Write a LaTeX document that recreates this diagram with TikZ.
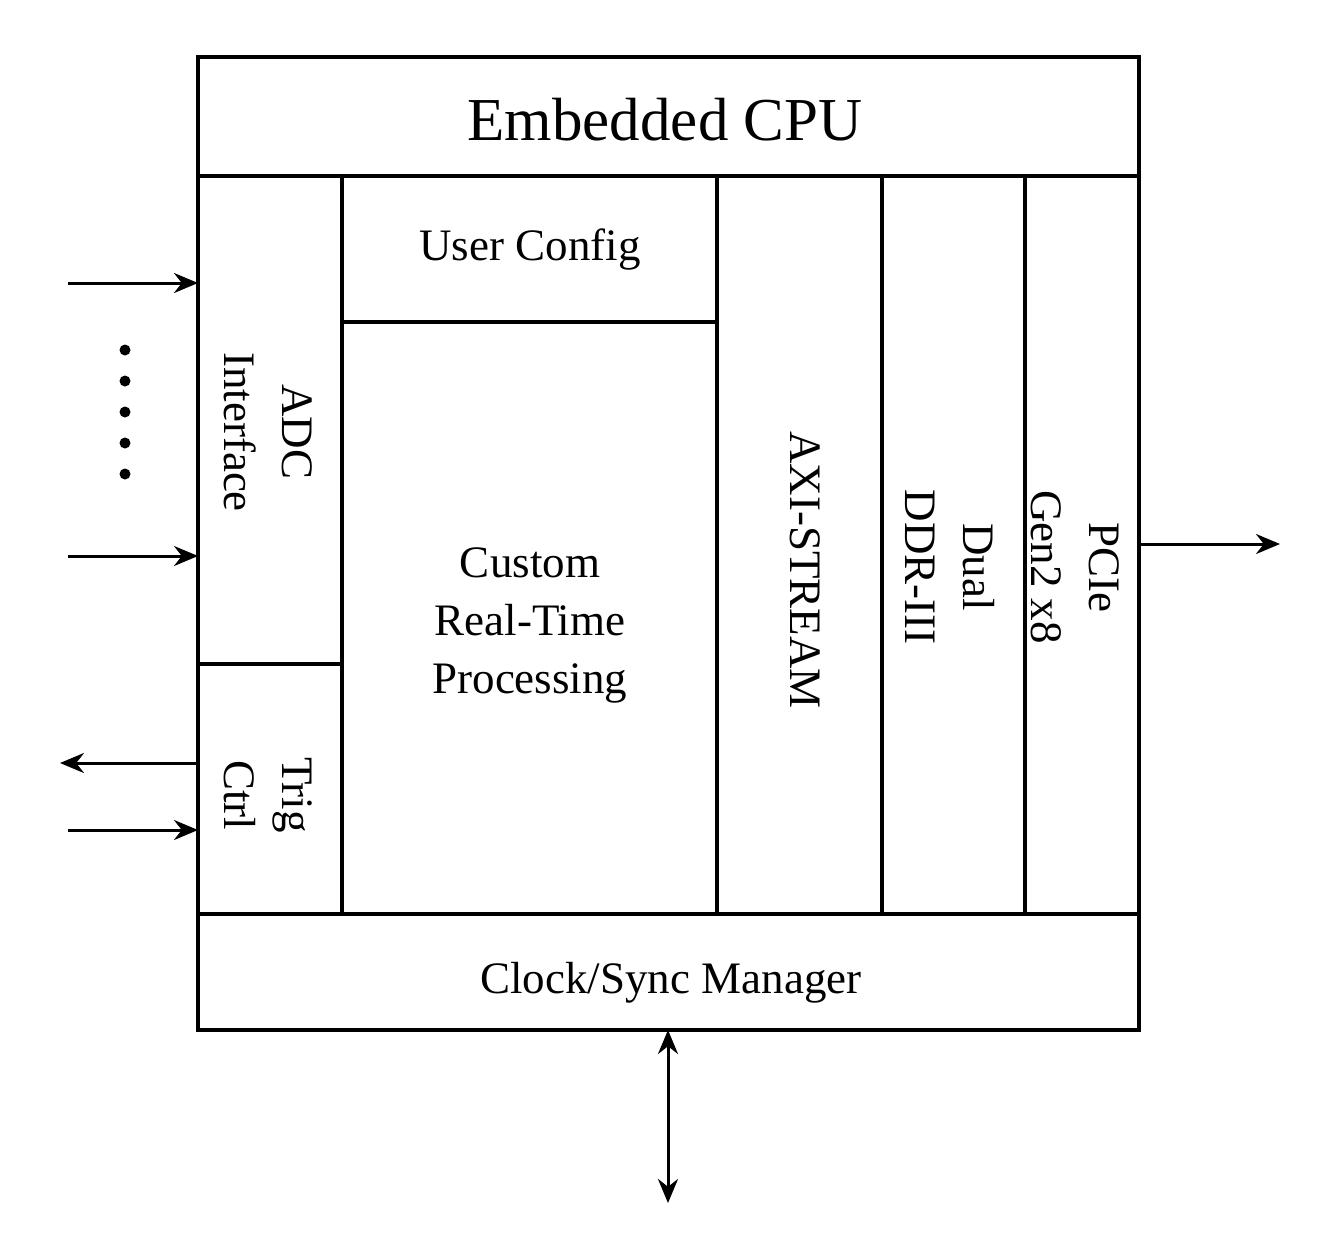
\documentclass[tikz,border=0pt]{standalone}
\usepackage{fontspec}
\setmainfont{Liberation Serif}
\usetikzlibrary{arrows.meta}
\begin{document}
\begin{tikzpicture}[x=1pt,y=-1pt,line width=3.6pt,
  lbl/.style={font=\fontsize{45}{58}\selectfont,align=center},
  arr/.style={-{Stealth[length=24pt,width=20pt]},line width=3pt}]
\useasboundingbox (0,0) rectangle (1339,1240);
\draw (198,57) rectangle (1139,1030);
\draw (198,176) -- (1139,176);
\draw (198,914) -- (1139,914);
\foreach \x in {342,717,882,1025} \draw (\x,176) -- (\x,914);
\draw (342,322) -- (717,322);
\draw (198,664) -- (342,664);
\node[font=\fontsize{61}{70}\selectfont] (cpu) at (665,120) {Embedded CPU};
\node[lbl] (uc) at (530,250) {User Config};
\node[lbl] (crt) at (530,625) {Custom\\Real-Time\\Processing};
\node[lbl] (clk) at (671,983) {Clock/Sync Manager};
\node[lbl,rotate=-90] (adc) at (268,432) {ADC\\Interface};
\node[lbl,rotate=-90] (trig) at (268,795) {Trig\\Ctrl};
\node[lbl,rotate=-90] (axi) at (805,570) {AXI-STREAM};
\node[lbl,rotate=-90] (ddr) at (950,567) {Dual\\DDR-III};
\node[lbl,rotate=-90] (pcie) at (1075,567) {PCIe\\Gen2 x8};
\coordinate (a1s) at (68,283); \coordinate (a1e) at (198,283);
\coordinate (a2s) at (68,556); \coordinate (a2e) at (198,556);
\coordinate (a3s) at (198,763); \coordinate (a3e) at (60,763);
\coordinate (a4s) at (68,830); \coordinate (a4e) at (198,830);
\coordinate (ps) at (1139,544); \coordinate (pe) at (1280,544);
\coordinate (cs) at (668,1030); \coordinate (ce) at (668,1203);
\draw[arr] (a1s) -- (a1e);
\draw[arr] (a2s) -- (a2e);
\draw[arr] (a3s) -- (a3e);
\draw[arr] (a4s) -- (a4e);
\draw[arr] (ps) -- (pe);
\draw[arr,{Stealth[length=24pt,width=20pt]}-{Stealth[length=24pt,width=20pt]}] (cs) -- (ce);
\foreach \y in {350,381,412,443,474} \fill (125,\y) circle (5.5);
\end{tikzpicture}
\end{document}
